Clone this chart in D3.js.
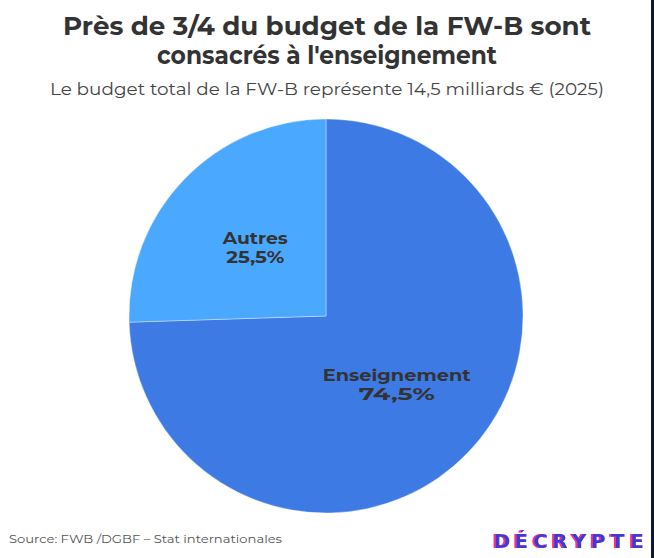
<!DOCTYPE html>
<html><head><meta charset="utf-8">
<script src="https://cdn.jsdelivr.net/npm/d3@7"></script>
<style>
html,body{margin:0;padding:0;background:#fff;}
svg{display:block;}
</style></head>
<body>
<script>
const categories = ["Enseignement", "Autres"];
const values = [74.5, 25.5];
const valueLabels = ["74,5%", "25,5%"];
const colors = ["#3e7ae3", "#4ba8ff"];
const title = ["Près de 3/4 du budget de la FW-B sont", "consacrés à l'enseignement"];
const subtitle = "Le budget total de la FW-B représente 14,5 milliards € (2025)";
const source = "Source: FWB /DGBF – Stat internationales";
const logo = "DÉCRYPTE";

const W = 654, H = 558;
const FONT = "Montserrat, 'Open Sans', sans-serif";
const svg = d3.select("body").append("svg").attr("width", W).attr("height", H);
svg.append("rect").attr("width", W).attr("height", H).attr("fill", "#fff");
svg.append("rect").attr("x", 651).attr("y", 0).attr("width", 3).attr("height", H).attr("fill", "#0c1b2b");

const defs = svg.append("defs");
const f = defs.append("filter").attr("id", "shadow").attr("x", "-30%").attr("y", "-20%").attr("width", "160%").attr("height", "140%");
f.append("feOffset").attr("in", "SourceAlpha").attr("dx", -2.2).attr("dy", 0).attr("result", "off");
f.append("feFlood").attr("flood-color", "#ff2f7a").attr("result", "pink");
f.append("feComposite").attr("in", "pink").attr("in2", "off").attr("operator", "in").attr("result", "sh");
const fm = f.append("feMerge");
fm.append("feMergeNode").attr("in", "sh");
fm.append("feMergeNode").attr("in", "SourceGraphic");

function fit(sel, w) {
  sel.attr("textLength", w).attr("lengthAdjust", "spacingAndGlyphs");
}

// Title
svg.append("text").attr("x", 327).attr("y", 35).attr("text-anchor", "middle")
  .attr("font-family", FONT).attr("font-weight", 700).attr("font-size", 25).attr("fill", "#333")
  .text(title[0]).call(fit, 528);
svg.append("text").attr("x", 327).attr("y", 64).attr("text-anchor", "middle")
  .attr("font-family", FONT).attr("font-weight", 700).attr("font-size", 25).attr("fill", "#333")
  .text(title[1]).call(fit, 340);
svg.append("text").attr("x", 327).attr("y", 95).attr("text-anchor", "middle")
  .attr("font-family", FONT).attr("font-weight", 400).attr("font-size", 17.5).attr("fill", "#444")
  .text(subtitle).call(fit, 554);

// Pie
const cx = 326, cy = 316, R = 197;
const pie = d3.pie().sort(null).value(d => d)(values);
const arc = d3.arc().innerRadius(0).outerRadius(R);
const labelArc = d3.arc().innerRadius(R * 0.5).outerRadius(R * 0.5);
const g = svg.append("g").attr("transform", `translate(${cx},${cy})`);
g.selectAll("path").data(pie).join("path")
  .attr("d", arc).attr("fill", (d, i) => colors[i])
  .attr("stroke", "rgba(255,255,255,0.35)").attr("stroke-width", 1);

const labelWidths = [[148, 76], [65, 58]];
pie.forEach((d, i) => {
  const [x, y] = labelArc.centroid(d);
  g.append("text").attr("x", x).attr("y", y - 3.5).attr("text-anchor", "middle")
    .attr("font-family", FONT).attr("font-weight", 700).attr("font-size", 16.5).attr("fill", "#333")
    .text(categories[i]).call(fit, labelWidths[i][0]);
  g.append("text").attr("x", x).attr("y", y + 15.5).attr("text-anchor", "middle")
    .attr("font-family", FONT).attr("font-weight", 700).attr("font-size", 16.5).attr("fill", "#333")
    .text(valueLabels[i]).call(fit, labelWidths[i][1]);
});

// Source
svg.append("text").attr("x", 9).attr("y", 543).attr("font-family", FONT)
  .attr("font-size", 12).attr("fill", "#555").text(source).call(fit, 273);

// Logo: one text per letter, pink offset via filter
const letters = logo.split("");
const lx = d3.scalePoint().domain(d3.range(letters.length)).range([501, 636]);
svg.append("g").attr("font-family", "'DejaVu Sans', sans-serif").attr("font-weight", 700)
  .attr("font-size", 20).attr("text-anchor", "middle").attr("fill", "#3b3bd8")
  .selectAll("text").data(letters).join("text")
  .attr("x", (c, i) => lx(i) + 1).attr("y", 548)
  .attr("filter", "url(#shadow)")
  .text(c => c);
</script>
</body></html>
